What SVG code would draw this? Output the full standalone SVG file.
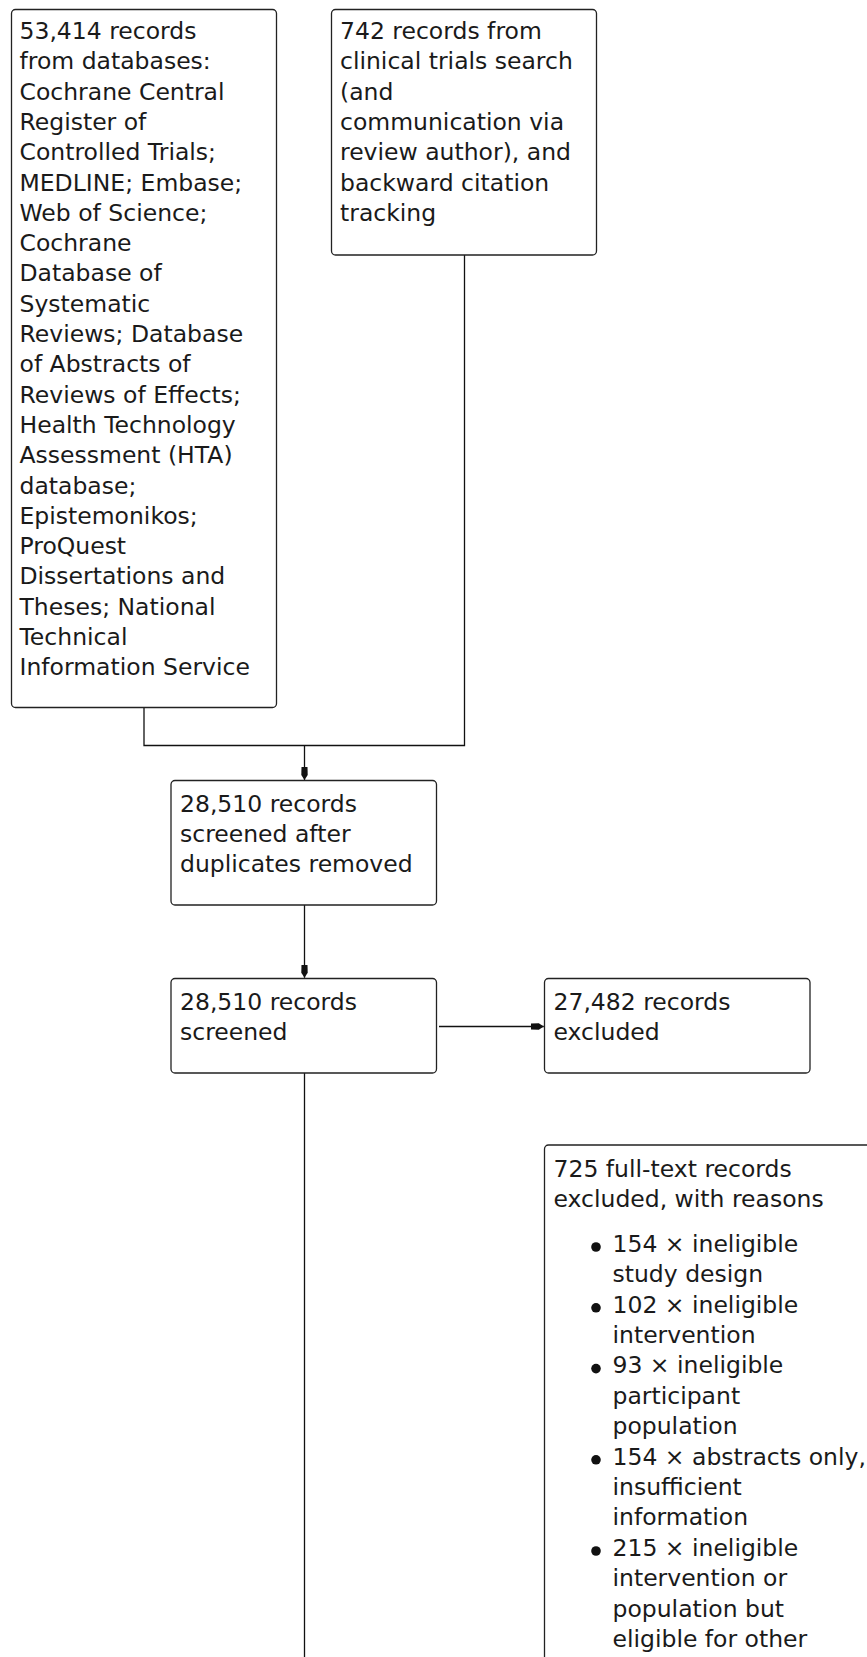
<svg xmlns="http://www.w3.org/2000/svg" width="867" height="1657" viewBox="0 0 867 1657">
<style>
.box{fill:#fff;stroke:#222;stroke-width:1.3}
.t{font-family:"DejaVu Sans","Liberation Sans",sans-serif;font-size:23.5px;fill:#1a1a1a}
.c{fill:none;stroke:#111;stroke-width:1.3}
.b{fill:#111}
</style>
<defs>
<marker id="ah" markerUnits="userSpaceOnUse" markerWidth="14" markerHeight="10" refX="13" refY="5" orient="auto">
<path d="M0,2 L8,1.8 L13,5 L8,8.2 L0,8 z" fill="#111"/>
</marker>
</defs>
<rect width="867" height="1657" fill="#fff"/>
<g id="connectors">
<path class="c" d="M144,708 V745.5 H464.5 V255"/>
<path class="c" d="M304.5,745.5 V780" marker-end="url(#ah)"/>
<path class="c" d="M304.5,905 V977.8" marker-end="url(#ah)"/>
<path class="c" d="M439,1026.5 H543.8" marker-end="url(#ah)"/>
<path class="c" d="M304.5,1073 V1657"/>
</g>
<g id="n1">
<rect class="box" x="11.5" y="9.5" width="265" height="698" rx="4"/>
<text class="t" x="19.5" y="39">
<tspan x="19.5" y="39">53,414 records</tspan>
<tspan x="19.5" y="69.3">from databases:</tspan>
<tspan x="19.5" y="99.6">Cochrane Central</tspan>
<tspan x="19.5" y="129.9">Register of</tspan>
<tspan x="19.5" y="160.2">Controlled Trials;</tspan>
<tspan x="19.5" y="190.5">MEDLINE; Embase;</tspan>
<tspan x="19.5" y="220.8">Web of Science;</tspan>
<tspan x="19.5" y="251.1">Cochrane</tspan>
<tspan x="19.5" y="281.4">Database of</tspan>
<tspan x="19.5" y="311.7">Systematic</tspan>
<tspan x="19.5" y="342">Reviews; Database</tspan>
<tspan x="19.5" y="372.3">of Abstracts of</tspan>
<tspan x="19.5" y="402.6">Reviews of Effects;</tspan>
<tspan x="19.5" y="432.9">Health Technology</tspan>
<tspan x="19.5" y="463.2">Assessment (HTA)</tspan>
<tspan x="19.5" y="493.5">database;</tspan>
<tspan x="19.5" y="523.8">Epistemonikos;</tspan>
<tspan x="19.5" y="554.1">ProQuest</tspan>
<tspan x="19.5" y="584.4">Dissertations and</tspan>
<tspan x="19.5" y="614.7">Theses; National</tspan>
<tspan x="19.5" y="645">Technical</tspan>
<tspan x="19.5" y="675.3">Information Service</tspan>
</text>
</g>
<g id="n2">
<rect class="box" x="331.5" y="9.5" width="265" height="245.5" rx="4"/>
<text class="t">
<tspan x="340" y="39">742 records from</tspan>
<tspan x="340" y="69.3">clinical trials search</tspan>
<tspan x="340" y="99.6">(and</tspan>
<tspan x="340" y="129.9">communication via</tspan>
<tspan x="340" y="160.2">review author), and</tspan>
<tspan x="340" y="190.5">backward citation</tspan>
<tspan x="340" y="220.8">tracking</tspan>
</text>
</g>
<g id="n3">
<rect class="box" x="171" y="780.5" width="265.5" height="124.5" rx="4"/>
<text class="t">
<tspan x="180" y="811.7">28,510 records</tspan>
<tspan x="180" y="842">screened after</tspan>
<tspan x="180" y="872.3">duplicates removed</tspan>
</text>
</g>
<g id="n4">
<rect class="box" x="171" y="978.5" width="265.5" height="94.5" rx="4"/>
<text class="t">
<tspan x="180" y="1009.5">28,510 records</tspan>
<tspan x="180" y="1039.8">screened</tspan>
</text>
</g>
<g id="n5">
<rect class="box" x="544.5" y="978.5" width="265.5" height="94.5" rx="4"/>
<text class="t">
<tspan x="553.5" y="1009.5">27,482 records</tspan>
<tspan x="553.5" y="1039.8">excluded</tspan>
</text>
</g>
<g id="n6">
<rect class="box" x="544.5" y="1145" width="400" height="600" rx="4"/>
<text class="t">
<tspan x="553.5" y="1176.7">725 full-text records</tspan>
<tspan x="553.5" y="1207">excluded, with reasons</tspan>
</text>
<circle class="b" cx="596" cy="1247" r="4.8"/>
<circle class="b" cx="596" cy="1307.8" r="4.8"/>
<circle class="b" cx="596" cy="1368.6" r="4.8"/>
<circle class="b" cx="596" cy="1459.8" r="4.8"/>
<circle class="b" cx="596" cy="1551" r="4.8"/>
<text class="t">
<tspan x="612.5" y="1251.7">154 × ineligible</tspan>
<tspan x="612.5" y="1282.1">study design</tspan>
<tspan x="612.5" y="1312.5">102 × ineligible</tspan>
<tspan x="612.5" y="1342.9">intervention</tspan>
<tspan x="612.5" y="1373.3">93 × ineligible</tspan>
<tspan x="612.5" y="1403.7">participant</tspan>
<tspan x="612.5" y="1434.1">population</tspan>
<tspan x="612.5" y="1464.5">154 × abstracts only,</tspan>
<tspan x="612.5" y="1494.9">insufficient</tspan>
<tspan x="612.5" y="1525.3">information</tspan>
<tspan x="612.5" y="1555.7">215 × ineligible</tspan>
<tspan x="612.5" y="1586.1">intervention or</tspan>
<tspan x="612.5" y="1616.5">population but</tspan>
<tspan x="612.5" y="1646.9">eligible for other</tspan>
</text>
</g>
</svg>
